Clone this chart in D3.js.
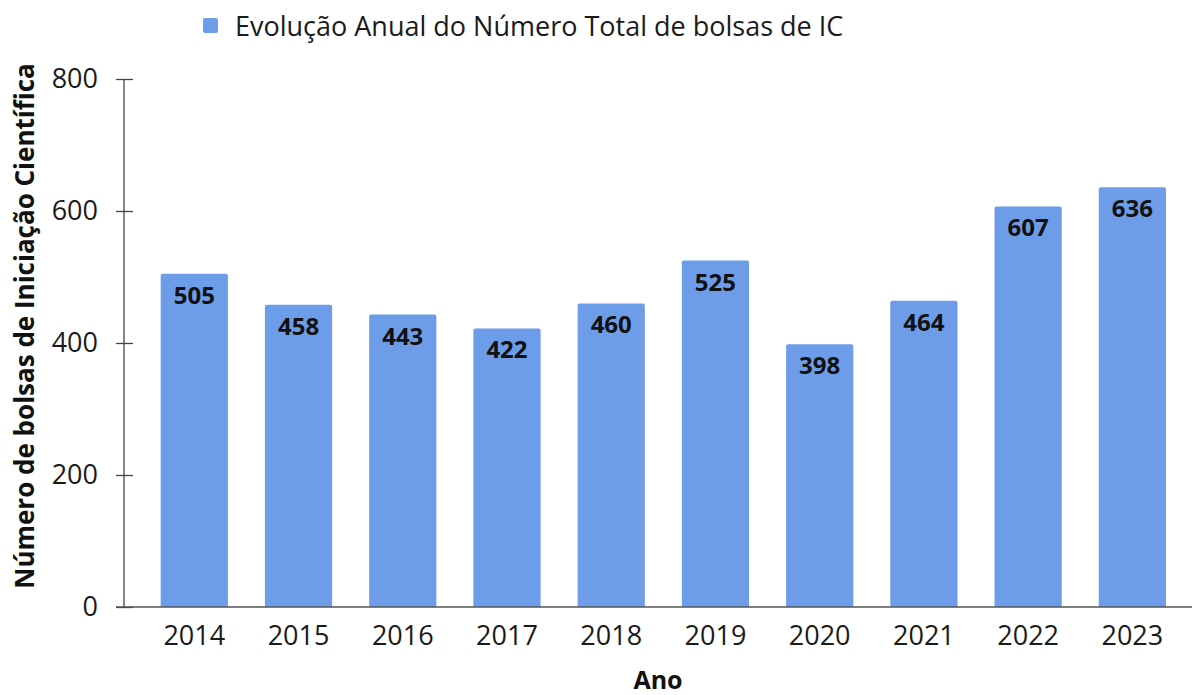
<!DOCTYPE html>
<html>
<head>
<meta charset="utf-8">
<script src="https://cdn.jsdelivr.net/npm/d3@7"></script>
<style>
  body { margin: 0; background: #fff; }
  svg { display: block; font-family: "Open Sans", sans-serif; }
</style>
</head>
<body>
<div class="container"></div>
<script>
const years = ['2014', '2015', '2016', '2017', '2018', '2019', '2020', '2021', '2022', '2023']
const bolsas = [505, 458, 443, 422, 460, 525, 398, 464, 607, 636]
const yTicks = [0, 200, 400, 600, 800]
const seriesName = 'Evolução Anual do Número Total de bolsas de IC'
const yTitle = 'Número de bolsas de Iniciação Científica'
const xTitle = 'Ano'

const width = 1192
const height = 695
const plotLeft = 124
const plotTop = 79
const plotBottom = 607
const plotRight = 1192
const barColor = '#6d9de8'

const data = years.map((y, i) => ({ id: y, value: bolsas[i] }))

const svg = d3.select('.container').append('svg')
  .attr('width', width)
  .attr('height', height)

const xScale = d3.scaleBand()
  .domain(years)
  .range([plotLeft, plotRight + 4])
  .paddingInner(0.355)
  .paddingOuter(0.32)
  .align(0.55)

const yScale = d3.scaleLinear()
  .domain([0, 800])
  .range([plotBottom, plotTop])

// bars
svg.append('g').attr('class', 'bars')
  .selectAll('path')
  .data(data)
  .enter()
    .append('path')
    .attr('fill', barColor)
    .attr('d', d => {
      const x0 = xScale(d.id)
      const x1 = x0 + xScale.bandwidth()
      const y0 = yScale(d.value)
      const r = 2
      return `M${x0},${plotBottom}V${y0 + r}Q${x0},${y0} ${x0 + r},${y0}H${x1 - r}Q${x1},${y0} ${x1},${y0 + r}V${plotBottom}Z`
    })

// value labels
svg.append('g').attr('class', 'value-labels')
  .selectAll('text')
  .data(data)
  .enter()
    .append('text')
    .attr('x', d => xScale(d.id) + xScale.bandwidth() / 2)
    .attr('y', d => yScale(d.value) + 30)
    .attr('text-anchor', 'middle')
    .attr('font-size', 24)
    .attr('font-weight', 'bold')
    .attr('fill', '#111')
    .text(d => d.value)

// y axis
const yAxis = d3.axisLeft(yScale).tickValues(yTicks).tickSize(8).tickPadding(18)
const yAxisG = svg.append('g')
  .attr('class', 'y axis')
  .attr('transform', `translate(${ plotLeft }, 0)`)
  .call(yAxis)
yAxisG.select('.domain').attr('stroke', '#444').attr('stroke-width', 1.3)
  .attr('d', `M0,${plotTop}V${plotBottom}`)
yAxisG.selectAll('.tick line').attr('x1', -8).attr('x2', 9).attr('stroke', '#444').attr('stroke-width', 1.3)
yAxisG.selectAll('.tick text')
  .attr('font-size', 27)
  .attr('fill', '#1a1a1a')
  .attr('font-family', '"Open Sans", sans-serif')

// x axis
const xAxis = d3.axisBottom(xScale).tickSize(0).tickPadding(19)
const xAxisG = svg.append('g')
  .attr('class', 'x axis')
  .attr('transform', `translate(0, ${ plotBottom })`)
  .call(xAxis)
xAxisG.select('.domain').attr('stroke', '#555').attr('stroke-width', 1.5)
  .attr('d', `M${plotLeft - 8},0H${plotRight}`)
xAxisG.selectAll('.tick text')
  .attr('font-size', 27)
  .attr('fill', '#1a1a1a')
  .attr('font-family', '"Open Sans", sans-serif')

// axis titles
svg.append('text')
  .attr('transform', `translate(34, 326) rotate(-90)`)
  .attr('text-anchor', 'middle')
  .attr('font-size', 26)
  .attr('font-weight', 'bold')
  .attr('fill', '#111')
  .text(yTitle)

svg.append('text')
  .attr('x', (plotLeft + plotRight) / 2)
  .attr('y', 689)
  .attr('text-anchor', 'middle')
  .attr('font-size', 25)
  .attr('font-weight', 'bold')
  .attr('fill', '#111')
  .text(xTitle)

// legend
const legend = svg.append('g').attr('class', 'legend').attr('transform', 'translate(203, 18)')
legend.append('rect')
  .attr('width', 15).attr('height', 15).attr('rx', 2)
  .attr('fill', barColor)
legend.append('text')
  .attr('x', 32)
  .attr('y', 18)
  .attr('font-size', 27)
  .attr('fill', '#1a1a1a')
  .text(seriesName)
</script>
</body>
</html>
